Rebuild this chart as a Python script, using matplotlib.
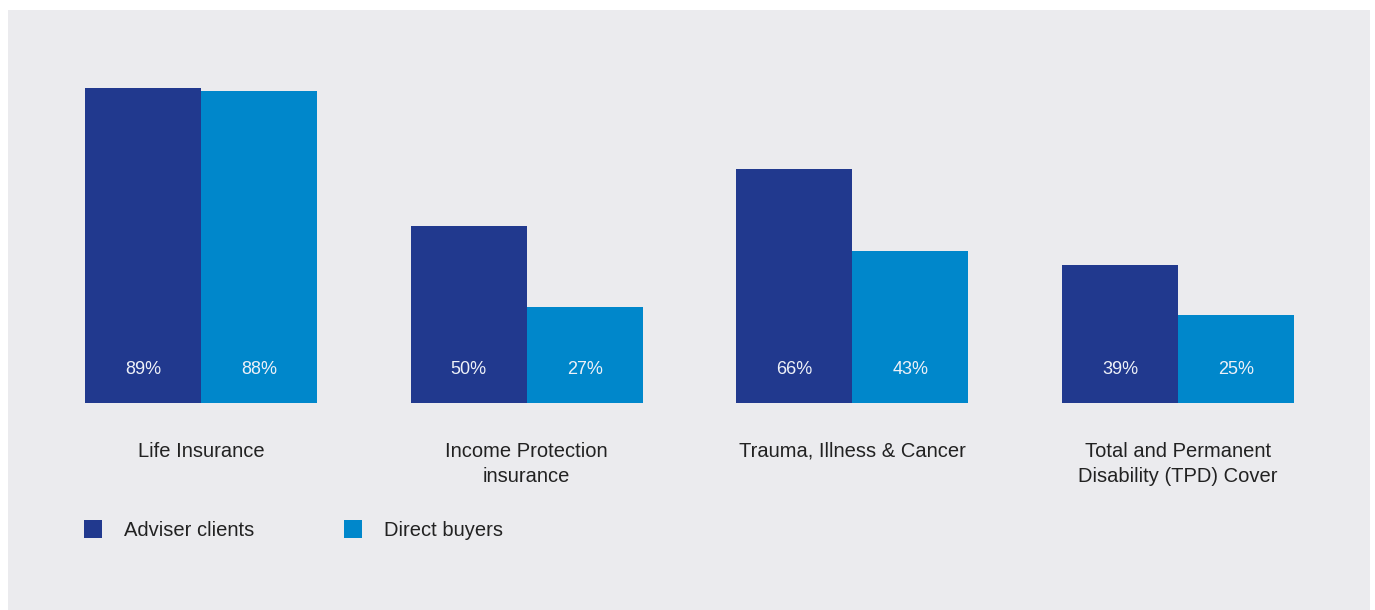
import numpy as np
import matplotlib
matplotlib.use("Agg")
import matplotlib.pyplot as plt
from matplotlib.patches import Rectangle

plt.rcParams["font.family"] = ["Liberation Sans", "DejaVu Sans"]

categories = ["Life Insurance", "Income Protection\ninsurance",
              "Trauma, Illness & Cancer",
              "Total and Permanent\nDisability (TPD) Cover"]
adviser = [89, 50, 66, 39]
direct = [88, 27, 43, 25]
series_names = ["Adviser clients", "Direct buyers"]

DARK = "#21398E"
LIGHT = "#0087CB"
BG = "#EBEBEE"
TXT = "#222222"

W, H = 1375, 610
fig = plt.figure(figsize=(W / 100, H / 100), dpi=100, facecolor="white")

# grey panel (drawn beneath the axes)
fig.patches.append(Rectangle((8 / W, 0), (1370 - 8) / W, (H - 10) / H,
                             transform=fig.transFigure, facecolor=BG,
                             edgecolor="none", zorder=-1))

# axes: baseline at y=403px, 100% = 354px; group centres at 201 + 325.67*i
step = 325.67
ax = fig.add_axes([0, (H - 403) / H, 1, 354 / H])
ax.set_xlim(-201 / step, (W - 201) / step)
ax.set_ylim(0, 100)
ax.axis("off")

x = np.arange(len(categories))
bw = 116 / step
b1 = ax.bar(x - bw / 2, adviser, bw, color=DARK, label=series_names[0])
b2 = ax.bar(x + bw / 2, direct, bw, color=LIGHT, label=series_names[1])

for bars, vals in [(b1, adviser), (b2, direct)]:
    for r, v in zip(bars, vals):
        ax.text(r.get_x() + r.get_width() / 2, 9.4, f"{v}%",
                ha="center", va="center", color="#EEF1F8", fontsize=13)

for xi, cat in zip(x, categories):
    ax.text(xi, -11, cat, ha="center", va="top", color=TXT,
            fontsize=14.5, linespacing=1.42, clip_on=False)

# legend
for i, (name, col) in enumerate(zip(series_names, [DARK, LIGHT])):
    lx = 84 + 260 * i
    fig.patches.append(Rectangle((lx / W, (H - 538) / H), 18 / W, 18 / H,
                                 transform=fig.transFigure, facecolor=col,
                                 edgecolor="none"))
    fig.text((lx + 40) / W, (H - 530) / H, name, ha="left", va="center",
             color=TXT, fontsize=14.5)

fig.savefig("out.png", dpi=100, facecolor="white")
